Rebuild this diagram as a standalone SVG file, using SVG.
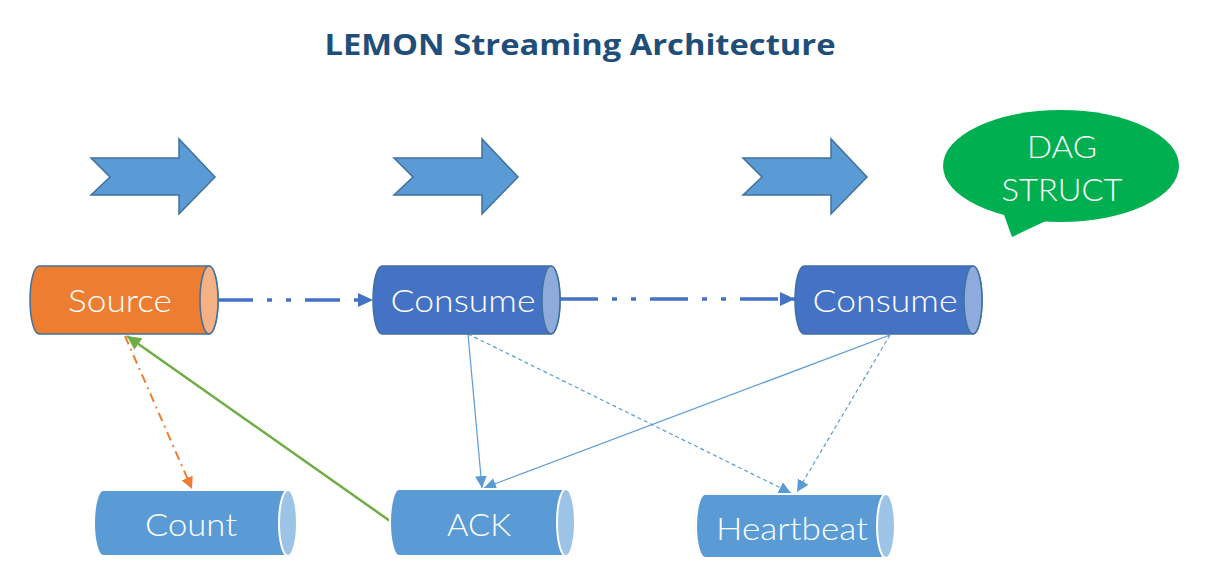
<svg xmlns="http://www.w3.org/2000/svg" width="1210" height="583" viewBox="0 0 1210 583">
<style>
.title{font-family:"Open Sans","Liberation Sans",sans-serif;font-weight:bold;font-size:28px;fill:#1F4E79}
.lbl{font-family:Lato,"Open Sans","Liberation Sans",sans-serif;font-weight:300;font-size:32px;fill:#FFFFFF;text-anchor:middle}
.blk{fill:#5B9BD5;stroke:#41719C;stroke-width:1.5}
.src{fill:#ED7D31;stroke:#41719C;stroke-width:1.5}
.srccap{fill:#F4B183;stroke:#41719C;stroke-width:1.5}
.con{fill:#4472C4;stroke:#41719C;stroke-width:1.5}
.concap{fill:#8FAADC;stroke:#41719C;stroke-width:1.5}
.low{fill:#5B9BD5;stroke:#FFFFFF;stroke-width:2}
.lowcap{fill:#9DC3E6;stroke:#FFFFFF;stroke-width:2}
.flow{fill:none;stroke:#4472C4;stroke-width:3.5}
.thin{fill:none;stroke:#5B9BD5;stroke-width:1.2}
</style>
<defs>
<marker id="mBlue" markerUnits="userSpaceOnUse" markerWidth="16" markerHeight="16" refX="15" refY="7" orient="auto"><path d="M0,0 L15,7 L0,14 Z" fill="#4472C4"/></marker>
<marker id="mThin" markerUnits="userSpaceOnUse" markerWidth="14" markerHeight="14" refX="12" refY="6" orient="auto"><path d="M0,0 L12,6 L0,12 Z" fill="#5B9BD5"/></marker>
<marker id="mOrange" markerUnits="userSpaceOnUse" markerWidth="14" markerHeight="14" refX="12" refY="6" orient="auto"><path d="M0,0 L12,6 L0,12 Z" fill="#ED7D31"/></marker>
<marker id="mGreen" markerUnits="userSpaceOnUse" markerWidth="16" markerHeight="16" refX="14" refY="7" orient="auto"><path d="M0,0 L14,7 L0,14 Z" fill="#70AD47"/></marker>
</defs>
<rect width="1210" height="583" fill="#FFFFFF"/>
<text class="title" x="580" y="55" text-anchor="middle" textLength="511" lengthAdjust="spacingAndGlyphs">LEMON Streaming Architecture</text>

<g id="arrow1"><polygon class="blk" points="91,158 179,158 179,139 215,177 179,214 179,195 91,195 110,177"/></g>
<g id="arrow2"><polygon class="blk" points="394,158 482,158 482,139 518,177 482,214 482,195 394,195 413,177"/></g>
<g id="arrow3"><polygon class="blk" points="743,158 831,158 831,139 867,177 831,214 831,195 743,195 762,177"/></g>

<g id="dag">
<ellipse cx="1061" cy="166" rx="118" ry="56" fill="#00B050"/>
<polygon points="1003,212 1012,237 1050,219" fill="#00B050"/>
<text class="lbl" x="1062" y="158" font-size="33" textLength="70" lengthAdjust="spacingAndGlyphs">DAG</text>
<text class="lbl" x="1062" y="201" font-size="33" textLength="121" lengthAdjust="spacingAndGlyphs">STRUCT</text>
</g>

<g id="connectors">
<line class="flow" x1="218" y1="300" x2="373" y2="300" stroke-dasharray="35 14 5 14 5 14" marker-end="url(#mBlue)"/>
<line class="flow" x1="560" y1="299" x2="795" y2="299" stroke-dasharray="38 14 5 14 5 14" marker-end="url(#mBlue)"/>
<line x1="125" y1="336" x2="192" y2="489" stroke="#ED7D31" stroke-width="2" stroke-dasharray="9 5 2 5" marker-end="url(#mOrange)"/>
<line x1="390" y1="521" x2="127" y2="336" stroke="#70AD47" stroke-width="2.5" marker-end="url(#mGreen)"/>
<line class="thin" x1="468" y1="334" x2="482" y2="488" marker-end="url(#mThin)"/>
<line class="thin" x1="468" y1="334" x2="791" y2="493" stroke-dasharray="4 3" marker-end="url(#mThin)"/>
<line class="thin" x1="890" y1="335" x2="484" y2="488" marker-end="url(#mThin)"/>
<line class="thin" x1="890" y1="335" x2="797" y2="492" stroke-dasharray="4 3" marker-end="url(#mThin)"/>
</g>

<g id="source">
<path class="src" d="M39,266 H209 A9,34 0 0 1 209,334 H39 A9,34 0 0 1 39,266 Z"/>
<ellipse class="srccap" cx="209" cy="300" rx="9" ry="34"/>
<text class="lbl" x="120" y="312" textLength="104" lengthAdjust="spacingAndGlyphs">Source</text>
</g>
<g id="consume1">
<path class="con" d="M382,266 H551 A9,34 0 0 1 551,334 H382 A9,34 0 0 1 382,266 Z"/>
<ellipse class="concap" cx="551" cy="300" rx="9" ry="34"/>
<text class="lbl" x="463" y="312" textLength="145" lengthAdjust="spacingAndGlyphs">Consume</text>
</g>
<g id="consume2">
<path class="con" d="M804,266 H973 A9,34 0 0 1 973,334 H804 A9,34 0 0 1 804,266 Z"/>
<ellipse class="concap" cx="973" cy="300" rx="9" ry="34"/>
<text class="lbl" x="885" y="312" textLength="145" lengthAdjust="spacingAndGlyphs">Consume</text>
</g>
<g id="count">
<path class="low" d="M103,490 H288 A9,33 0 0 1 288,556 H103 A9,33 0 0 1 103,490 Z"/>
<ellipse class="lowcap" cx="288" cy="523" rx="9" ry="33"/>
<text class="lbl" x="191" y="536" textLength="92" lengthAdjust="spacingAndGlyphs">Count</text>
</g>
<g id="ack">
<path class="low" d="M399,489 H566 A9,33.5 0 0 1 566,556 H399 A9,33.5 0 0 1 399,489 Z"/>
<ellipse class="lowcap" cx="566" cy="522.5" rx="9" ry="33.5"/>
<text class="lbl" x="479" y="536" textLength="64" lengthAdjust="spacingAndGlyphs">ACK</text>
</g>
<g id="heartbeat">
<path class="low" d="M705,494 H886 A9,32 0 0 1 886,558 H705 A9,32 0 0 1 705,494 Z"/>
<ellipse class="lowcap" cx="886" cy="526" rx="9" ry="32"/>
<text class="lbl" x="792" y="540" textLength="152" lengthAdjust="spacingAndGlyphs">Heartbeat</text>
</g>
</svg>
